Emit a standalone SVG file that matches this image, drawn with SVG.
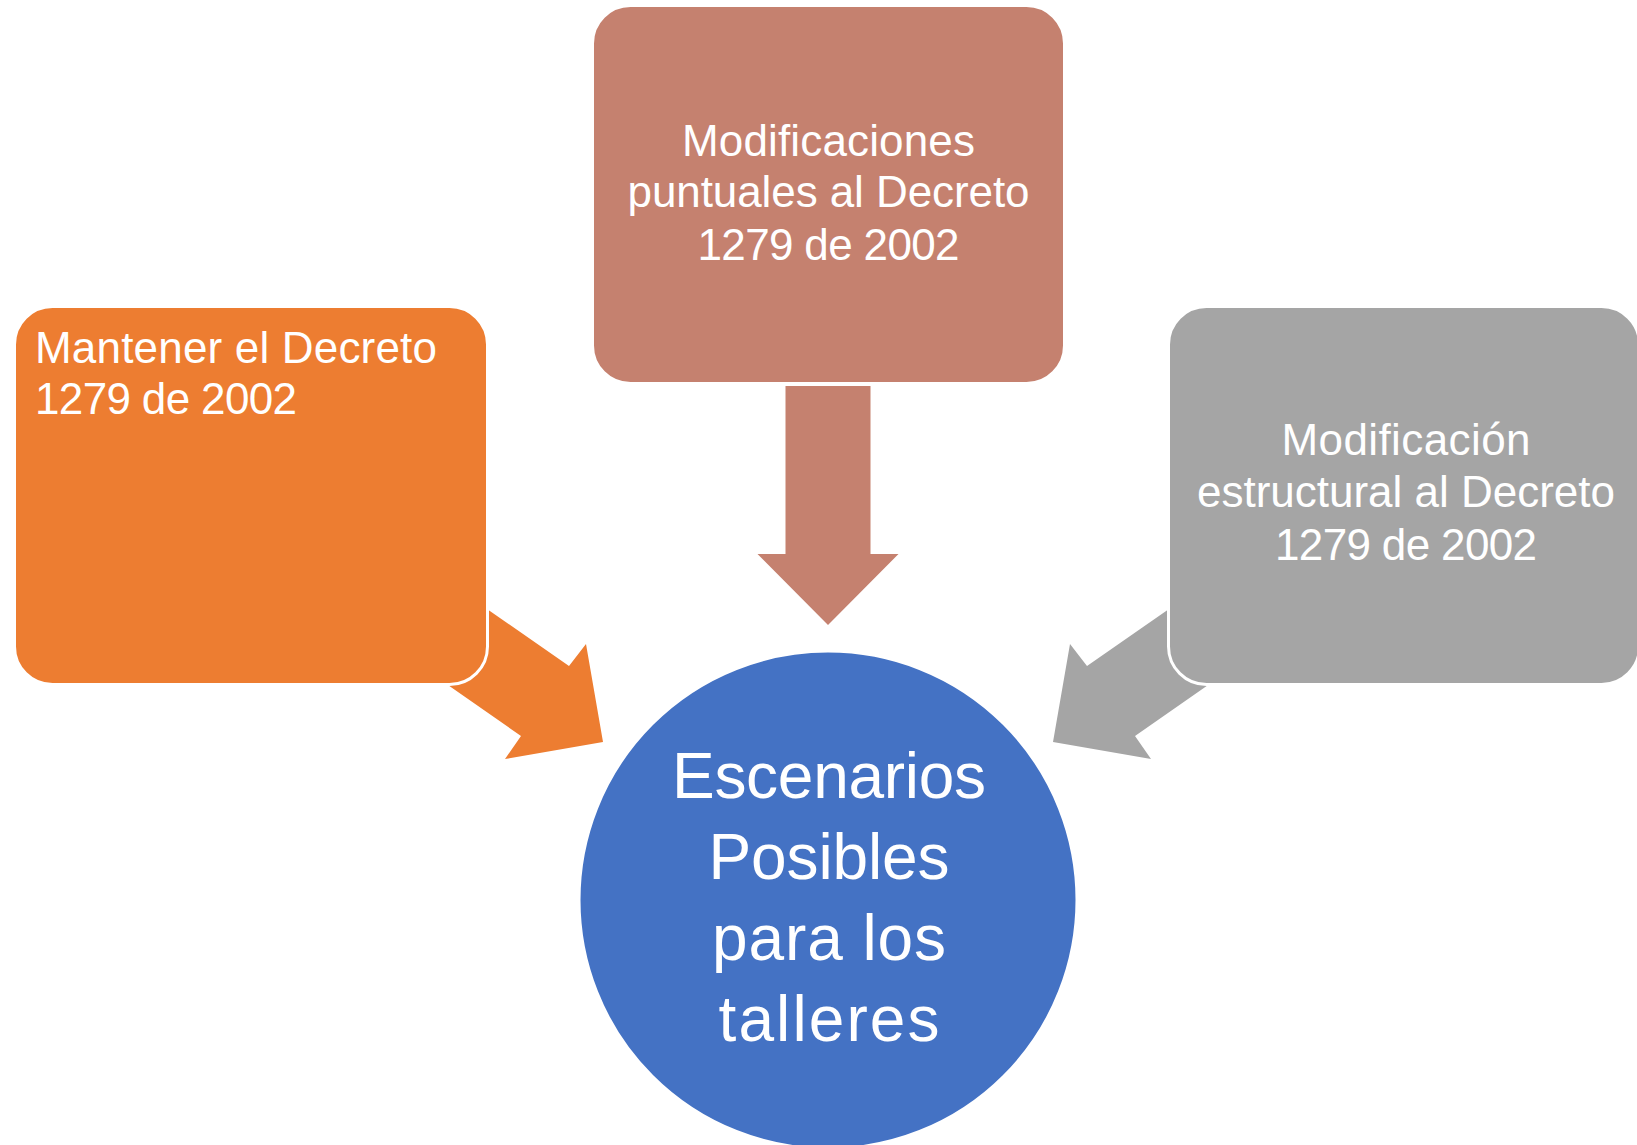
<svg xmlns="http://www.w3.org/2000/svg" width="1637" height="1145" viewBox="0 0 1637 1145">
<style>
.box{stroke:#ffffff;stroke-width:3}
.t{font-family:"Liberation Sans",Arial,sans-serif;fill:#ffffff;font-size:44px}
.c{text-anchor:middle}
.big{font-size:64px}
</style>
<rect width="1637" height="1145" fill="#ffffff"/>
<g id="connectors">
<polygon fill="#ED7D31" points="441,577 569,666 586,644 603,742 505,759 521,736 402,653"/>
<polygon fill="#A5A5A5" points="1215,577 1087,666 1070,644 1053,742 1151,759 1135,736 1254,653"/>
<polygon fill="#C5816F" points="785.5,386 870.5,386 870.5,554 898.5,554 828,625 757.5,554 785.5,554"/>
</g>
<g id="node-mantener">
<rect class="box" x="14.5" y="306.5" width="473" height="378" rx="38" fill="#ED7D31"/>
<text class="t" x="35" y="363" textLength="402">Mantener el Decreto</text>
<text class="t" x="35" y="414" textLength="262">1279 de 2002</text>
</g>
<g id="node-puntuales">
<rect class="box" x="592.5" y="5.5" width="472" height="378" rx="38" fill="#C5816F"/>
<text class="t c" x="828.5" y="156" textLength="293">Modificaciones</text>
<text class="t c" x="828.5" y="207" textLength="402">puntuales al Decreto</text>
<text class="t c" x="828.5" y="260" textLength="262">1279 de 2002</text>
</g>
<g id="node-estructural">
<rect class="box" x="1168.5" y="306.5" width="471" height="378" rx="38" fill="#A5A5A5"/>
<text class="t c" x="1406" y="455" textLength="249">Modificación</text>
<text class="t c" x="1406" y="507" textLength="418">estructural al Decreto</text>
<text class="t c" x="1406" y="560" textLength="262">1279 de 2002</text>
</g>
<g id="node-escenarios">
<circle cx="828" cy="900" r="249" fill="#4472C4" stroke="#ffffff" stroke-width="3"/>
<text class="t c big" x="829" y="798" textLength="314">Escenarios</text>
<text class="t c big" x="829" y="879" textLength="241">Posibles</text>
<text class="t c big" x="829" y="960" textLength="234">para los</text>
<text class="t c big" x="829" y="1041" textLength="221">talleres</text>
</g>
</svg>
